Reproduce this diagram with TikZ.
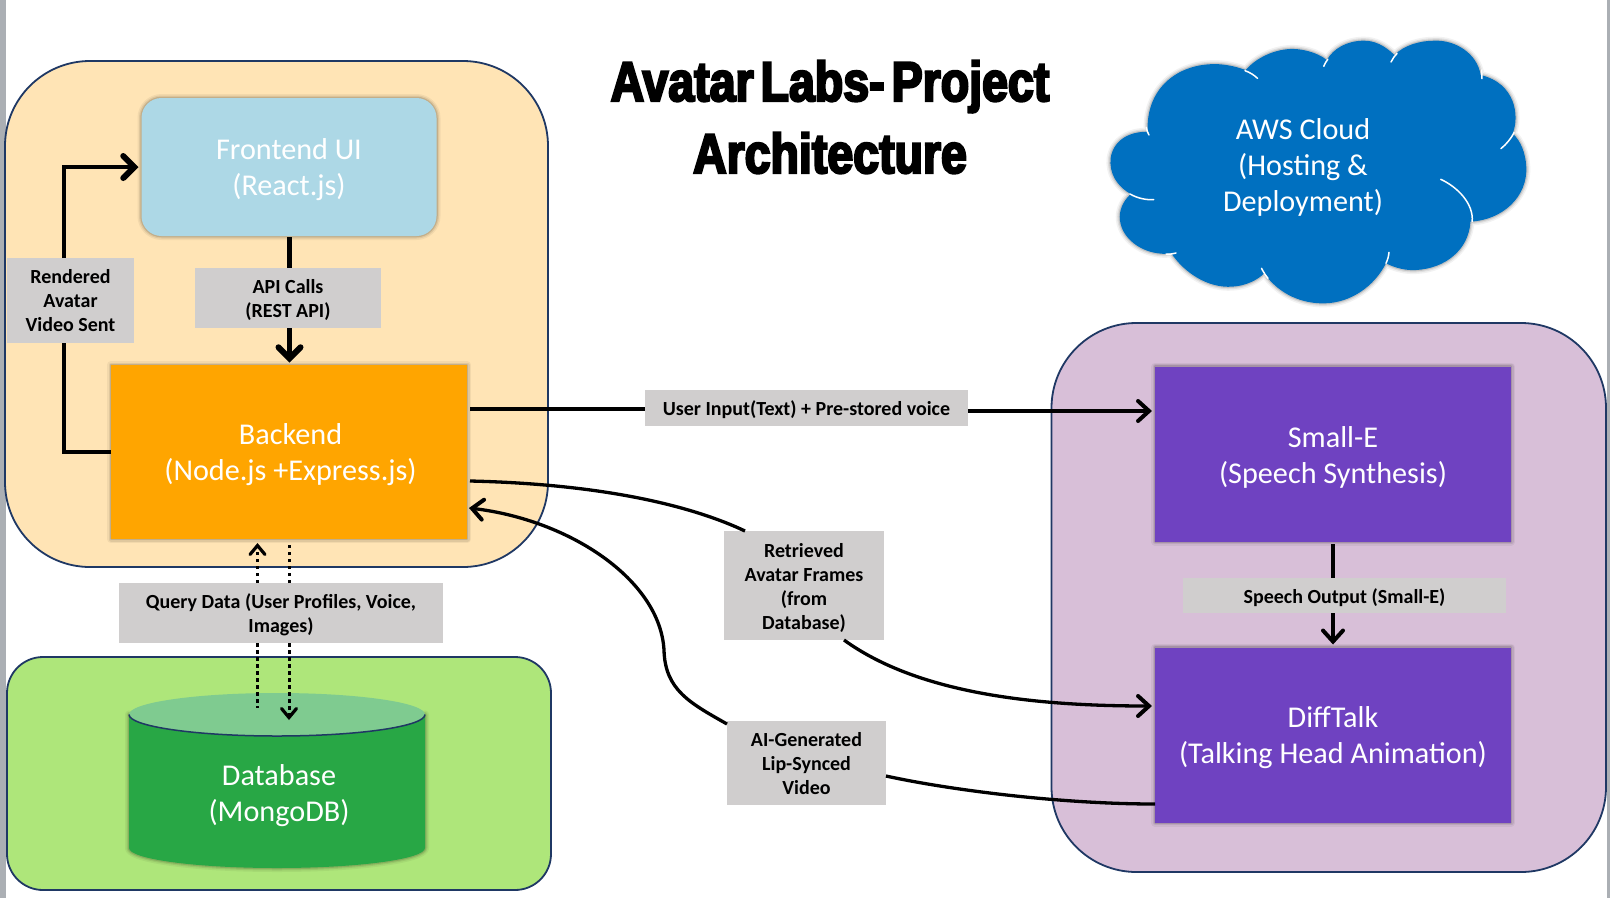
\documentclass[tikz,border=0pt]{standalone}
\usepackage{fontspec}
\setmainfont{Carlito}
\newfontfamily\titlefont[FakeStretch=0.83,FakeBold=4,WordSpace=0.55]{Liberation Sans Bold}
\usetikzlibrary{arrows.meta,calc}
\definecolor{tanbg}{HTML}{FFE4B5}
\definecolor{greenbg}{HTML}{AEE67A}
\definecolor{purplebg}{HTML}{D8BFD8}
\definecolor{framec}{HTML}{1F3864}
\definecolor{lblue}{HTML}{ADD8E6}
\definecolor{orangec}{HTML}{FFA500}
\definecolor{violetc}{HTML}{6F42C1}
\definecolor{dbgreen}{HTML}{28A745}
\definecolor{dbtop}{HTML}{7FCB90}
\definecolor{cloudc}{HTML}{0070C0}
\definecolor{lblgrey}{HTML}{D0CECE}
\definecolor{stripc}{HTML}{ABAFB4}
\tikzset{
  x=1pt,y=-1pt,
  frame/.style={draw=framec,line width=1.8pt,inner sep=0pt,outer sep=0pt},
  bigtext/.style={text=white,align=center,inner sep=0pt,font=\fontsize{30.2}{36}\selectfont},
  box/.style={inner sep=0pt,outer sep=0pt},
  boxtext/.style={label={[bigtext,yshift=-3pt]center:{#1}}},
  softedge/.style={
    preaction={draw=black,line width=8pt,opacity=.05,line join=round},
    preaction={draw=black,line width=5pt,opacity=.08,line join=round},
    preaction={draw=black,line width=2.5pt,opacity=.12,line join=round}},
  lbl/.style={fill=lblgrey,inner sep=0pt,outer sep=0pt},
  lblfont/.style={inner sep=0pt,align=center,text=black,font=\bfseries\fontsize{20}{24}\selectfont},
  lbltext/.style={label={[lblfont,yshift=-2pt]center:{#1}}},
  lbltextup/.style={label={[lblfont,yshift=-0.5pt]center:{#1}}},
  conn/.style={line width=3.3pt,black},
  thick conn/.style={line width=4.5pt,black},
  dots/.style={line width=3pt,black,dash pattern=on 3.5pt off 3.5pt},
  tip/.style={-{Straight Barb[length=11pt,width=20pt,line cap=round,line width=4pt]}},
  bigtip/.style={-{Straight Barb[length=11pt,width=22pt,line cap=round,line width=6pt]}},
  thin tip/.style={-{Straight Barb[length=9pt,width=15pt,line cap=round,line width=3.2pt]}},
  cloudline/.style={draw=white,line width=1.5pt,line cap=round},
}
\begin{document}
\begin{tikzpicture}
\useasboundingbox (0,0) rectangle (1610,898);
\fill[white] (0,0) rectangle (1610,898);
\fill[stripc] (0,0) rectangle (6,898);
\fill[stripc] (1607,0) rectangle (1610,898);

% group panels
\node[frame,fill=tanbg,rounded corners=85pt,minimum width=543pt,minimum height=506pt] (tanpanel) at (276.5,314) {};
\node[frame,fill=greenbg,rounded corners=36pt,minimum width=544pt,minimum height=233pt] (greenpanel) at (279,773.5) {};
\node[frame,fill=purplebg,rounded corners=85pt,minimum width=554.5pt,minimum height=549pt] (purplepanel) at (1328.75,597.5) {};

% title
\node[inner sep=0pt,align=center,font=\titlefont\fontsize{56}{72}\selectfont] (title) at (830,117) {Avatar Labs- Project\\Architecture};

% cloud
\begin{scope}[shift={(1080,20)},x=0.33807pt,y=-0.33333pt]
  \path[fill=cloudc,softedge]
    (200,335)
    .. controls (120,335) and (88,385) .. (90,430)
    .. controls (92,475) and (120,505) .. (150,522)
    .. controls (125,545) and (115,575) .. (118,600)
    .. controls (125,665) and (200,710) .. (270,700)
    .. controls (310,760) and (380,805) .. (450,800)
    .. controls (490,798) and (525,780) .. (545,760)
    .. controls (590,825) and (660,852) .. (725,850)
    .. controls (800,848) and (870,800) .. (905,730)
    .. controls (935,745) and (965,752) .. (995,750)
    .. controls (1080,745) and (1150,690) .. (1155,605)
    .. controls (1250,600) and (1325,530) .. (1320,440)
    .. controls (1318,400) and (1305,365) .. (1280,340)
    .. controls (1300,290) and (1290,190) .. (1185,165)
    .. controls (1175,100) and (1110,60) .. (1050,62)
    .. controls (1005,62) and (960,75) .. (930,105)
    .. controls (900,75) and (870,62) .. (840,62)
    .. controls (790,62) and (750,85) .. (730,120)
    .. controls (700,95) and (650,85) .. (620,87)
    .. controls (570,90) and (520,115) .. (490,150)
    .. controls (450,135) and (410,130) .. (380,133)
    .. controls (280,140) and (195,210) .. (200,335) -- cycle;
  \draw[cloudline] (196,322) .. controls (197,330) and (200,338) .. (204,345);
  \draw[cloudline] (148,522) .. controls (170,535) and (195,540) .. (218,539);
  \draw[cloudline] (255,702) .. controls (265,703) and (275,702) .. (284,699);
  \draw[cloudline] (537,745) .. controls (542,755) and (548,765) .. (556,775);
  \draw[cloudline] (905,730) .. controls (910,720) and (913,708) .. (914,697);
  \draw[cloudline] (1067,478) .. controls (1115,500) and (1165,550) .. (1160,605);
  \draw[cloudline] (1284,338) .. controls (1275,355) and (1262,372) .. (1245,386);
  \draw[cloudline] (1188,150) -- (1189,176);
  \draw[cloudline] (938,100) .. controls (930,108) and (925,116) .. (920,126);
  \draw[cloudline] (733,118) .. controls (728,124) and (724,131) .. (721,139);
  \draw[cloudline] (488,152) .. controls (502,157) and (515,165) .. (525,175);
\end{scope}
\node[bigtext] (aws) at (1303,167) {AWS Cloud\\(Hosting \&\\Deployment)};

% main boxes
\node[box,fill=lblue,rounded corners=20pt,minimum width=295pt,minimum height=138pt,softedge,boxtext={Frontend UI\\(React.js)}] (frontend) at (289,167) {};
\node[box,fill=orangec,minimum width=356pt,minimum height=174pt,softedge,label={[bigtext,yshift=-3pt,xshift=1.5pt]center:{Backend\\(Node.js +Express.js)}}] (backend) at (289,452) {};
\node[box,fill=violetc,minimum width=356pt,minimum height=175pt,softedge,boxtext={Small-E\\(Speech Synthesis)}] (smalle) at (1333,454) {};
\node[box,fill=violetc,minimum width=356pt,minimum height=175pt,softedge,boxtext={DiffTalk\\(Talking Head Animation)}] (difftalk) at (1333,735) {};

% database
\node[inner sep=0pt,outer sep=0pt,minimum width=296pt,minimum height=175pt] (db) at (277,780.5) {};
\path[fill=dbgreen,softedge]
  (129,714.5) -- (129,848) arc[start angle=180,end angle=0,x radius=148,y radius=20]
  -- (425,714.5) arc[start angle=0,end angle=180,x radius=148,y radius=21.5] -- cycle;
\path[fill=dbtop] (277,714.5) ellipse[x radius=148,y radius=21.5];
\draw[framec,line width=1.5pt] (129,714.5) arc[start angle=180,end angle=0,x radius=148,y radius=21.5];
\node[bigtext] (dbtext) at (279,796) {Database\\(MongoDB)};

% labels
\node[lbl,minimum width=186pt,minimum height=60pt,lbltext={API Calls\\(REST API)}] (api) at (288,298) {};
\node[lbl,minimum width=127pt,minimum height=85pt,lbltextup={Rendered\\Avatar\\Video Sent}] (rendered) at (70.5,300.5) {};
\node[lbl,minimum width=323pt,minimum height=36pt,lbltext={User Input(Text) + Pre-stored voice}] (userinput) at (806.5,408) {};
\node[lbl,minimum width=160pt,minimum height=109pt,lbltext={Retrieved\\Avatar Frames\\(from\\Database)}] (retrieved) at (804,585.5) {};
\node[lbl,minimum width=159pt,minimum height=84pt,lbltextup={AI-Generated\\Lip-Synced\\Video}] (ailabel) at (806.5,763) {};
\node[lbl,minimum width=323pt,minimum height=35pt,lbltext={Speech Output (Small-E)}] (speech) at (1344.5,595.5) {};
\node[lbl,minimum width=324pt,minimum height=60pt,lbltext={Query Data (User Profiles, Voice,\\Images)}] (query) at (281,613) {};

% connectors
\draw[thick conn] (backend.west) -| ([xshift=-6.5pt]rendered.south);
\draw[thick conn,bigtip] ([xshift=-6.5pt]rendered.north) |- ([xshift=-3pt]frontend.west);
\draw[thick conn] ([yshift=-1pt,xshift=.5pt]frontend.south) -- ([xshift=1.5pt]api.north);
\draw[thick conn,bigtip] ([xshift=1.5pt]api.south) -- ([xshift=.5pt,yshift=2.5pt]backend.north);
\draw[conn] ([yshift=43pt,xshift=3pt]backend.east) -- ([yshift=-1pt]userinput.west);
\draw[conn,tip] ([yshift=-3pt]userinput.east) -- ([yshift=43pt,xshift=-3pt]smalle.west);
\draw[conn] ([yshift=-29pt,xshift=3pt]backend.east) .. controls (600,484) and (690,505) .. ([xshift=-59pt]retrieved.north);
\draw[conn,tip] ([xshift=40pt]retrieved.south) .. controls (920,695) and (1040,706) .. ([yshift=29pt,xshift=-3pt]difftalk.west);
\draw[conn] ([yshift=-69pt]difftalk.west) .. controls (1060,804) and (950,790) .. ([yshift=-13pt]ailabel.east);
\draw[conn,tip] ([yshift=39pt]ailabel.west) .. controls (690,703) and (665,690) .. (664,650) .. controls (660,580) and (570,520) .. ([yshift=-56pt,xshift=2pt]backend.east);
\draw[thick conn] (smalle.south |- 0,544) -- ([xshift=-11.5pt]speech.north);
\draw[thick conn,tip] ([xshift=-11.5pt]speech.south) -- ([yshift=3pt]difftalk.north);
\draw[dots,thin tip] ([xshift=-23.5pt]query.north) -- ([xshift=-31.5pt,yshift=-4pt]backend.south);
\draw[dots] ([xshift=8pt]query.north) -- ([yshift=-4pt]backend.south);
\draw[dots] ([xshift=-23.5pt]query.south) -- (257.5,708);
\draw[dots,thin tip] ([xshift=8pt]query.south) -- (289,720);
\end{tikzpicture}
\end{document}
